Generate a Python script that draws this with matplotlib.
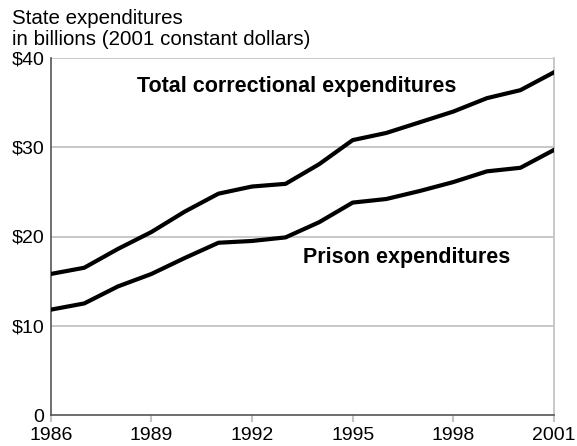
import matplotlib
matplotlib.use("Agg")
import matplotlib.pyplot as plt

plt.rcParams['font.family'] = ['Liberation Sans', 'DejaVu Sans']

years = list(range(1986, 2002))
total = [15.8, 16.5, 18.6, 20.5, 22.8, 24.8, 25.6, 25.9, 28.1, 30.8,
         31.6, 32.8, 34.0, 35.5, 36.4, 38.4]
prison = [11.8, 12.5, 14.4, 15.8, 17.6, 19.3, 19.5, 19.9, 21.6, 23.8,
          24.2, 25.1, 26.1, 27.3, 27.7, 29.7]

ytick_vals = [0, 10, 20, 30, 40]
ytick_labels = ['0', '$10', '$20', '$30', '$40']
xtick_vals = [1986, 1989, 1992, 1995, 1998, 2001]

W, H = 577, 446
fig = plt.figure(figsize=(W / 100, H / 100), dpi=100)
ax = fig.add_axes([50.7 / W, 31 / H, 503.3 / W, 357 / H])

grid_color = '#c4c4c4'
for y in ytick_vals[1:]:
    ax.axhline(y, color=grid_color, lw=1.3, zorder=1)

ax.plot(years, total, color='black', lw=3, solid_joinstyle='round', zorder=3)
ax.plot(years, prison, color='black', lw=3, solid_joinstyle='round', zorder=3)

ax.set_xlim(1986, 2001)
ax.set_ylim(0, 40)

ax.set_yticks(ytick_vals)
ax.set_yticklabels(ytick_labels, fontsize=14)
ax.set_xticks(xtick_vals)
ax.set_xticklabels([str(x) for x in xtick_vals], fontsize=14)
ax.tick_params(axis='y', length=0, pad=4.5)
ax.tick_params(axis='x', length=5, color=grid_color, width=1.5, pad=3.5)

for side in ['left', 'bottom']:
    ax.spines[side].set_color('#555555')
    ax.spines[side].set_linewidth(1.2)
for side in ['top', 'right']:
    ax.spines[side].set_color(grid_color)
    ax.spines[side].set_linewidth(1.3)
ax.spines['top'].set_visible(False)

# series labels
ax.text(1993.32, 36.19, 'Total correctional expenditures', fontsize=15.5,
        fontweight='bold', ha='center', va='baseline')
ax.text(1996.6, 17.0, 'Prison expenditures', fontsize=15.5,
        fontweight='bold', ha='center', va='baseline')

# y-axis title (two lines)
fig.text(12 / W, 1 - 24 / H, 'State expenditures', fontsize=14.8,
         ha='left', va='baseline')
fig.text(12 / W, 1 - 45 / H, 'in billions (2001 constant dollars)', fontsize=14.8,
         ha='left', va='baseline')

fig.savefig('out.png', dpi=100)
